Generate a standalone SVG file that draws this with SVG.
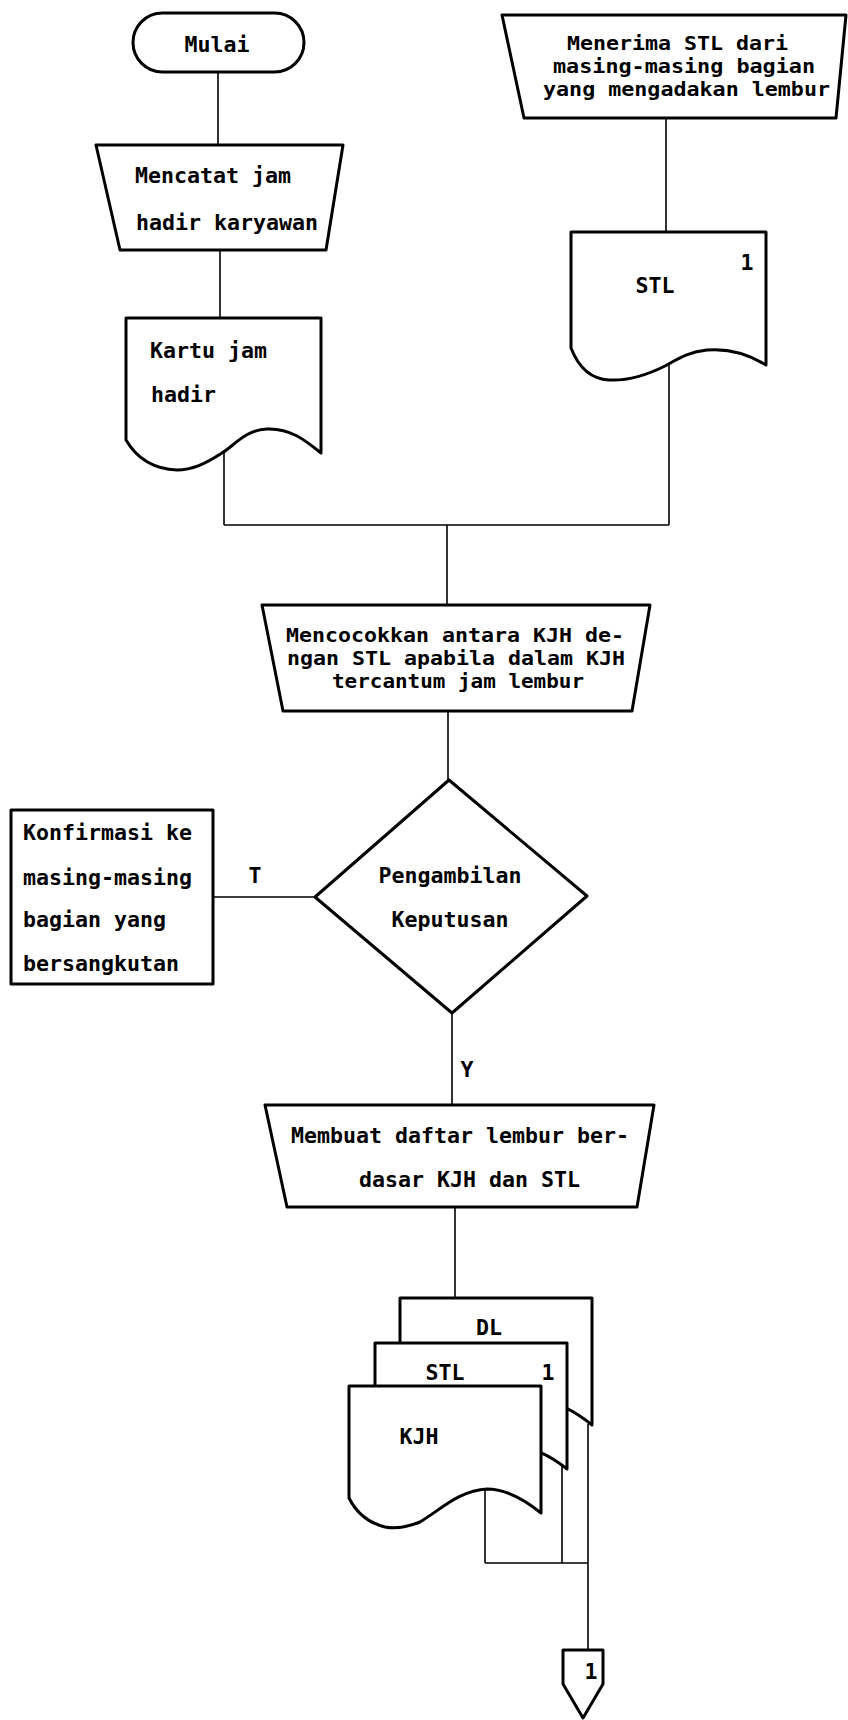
<svg xmlns="http://www.w3.org/2000/svg" width="848" height="1720" viewBox="0 0 848 1720">
<style>
.shape{fill:#fff;stroke:#000;stroke-width:3;stroke-linejoin:round}
.conn{fill:none;stroke:#000;stroke-width:1.6}
text{font-family:"DejaVu Sans Mono","Liberation Mono",monospace;font-weight:bold;font-size:21.6px;fill:#000}
.c{text-anchor:middle}
.t{font-size:19.5px}
</style>
<rect width="848" height="1720" fill="#fff"/>
<g id="connectors">
<path class="conn" d="M218,72 V145 M220,250 V318 M224,452 V525 M666,118 V232 M669,362 V525 M224,525 H669 M447,525 V605 M448,711 V780 M315,897 H213 M452,1013 V1105 M455,1207 V1298 M485,1490 V1563 M562,1466 V1563 M588,1424 V1650 M485,1563 H588"/>
<text class="c" x="255" y="883">T</text>
<text class="c" x="467" y="1077">Y</text>
</g>
<g id="mulai">
<rect class="shape" x="133" y="13" width="171" height="59" rx="29.5"/>
<text class="c" x="217" y="52">Mulai</text>
</g>
<g id="mencatat">
<polygon class="shape" points="96,145 343,145 326,250 120,250"/>
<text x="135" y="183">Mencatat jam</text>
<text x="136" y="230">hadir karyawan</text>
</g>
<g id="kartu">
<path class="shape" d="M126,318 H321 V453 C305,440 290,428 267,429 C245,430 235,445 222,453 C205,464 192,470 177,470 C152,469 136,457 126,440 Z"/>
<text x="150" y="358">Kartu jam</text>
<text x="151" y="402">hadir</text>
</g>
<g id="menerima">
<polygon class="shape" points="502,15 846,15 836,118 524,118"/>
<text class="t" x="567" y="50" textLength="221" lengthAdjust="spacingAndGlyphs">Menerima STL dari</text>
<text class="t" x="553" y="73" textLength="262" lengthAdjust="spacingAndGlyphs">masing-masing bagian</text>
<text class="t" x="543" y="96" textLength="287" lengthAdjust="spacingAndGlyphs">yang mengadakan lembur</text>
</g>
<g id="stl-doc">
<path class="shape" d="M571,232 H766 V365 C750,355 730,348 707,350 C688,352 678,359 665,366 C645,376 627,381 609,380 C590,379 578,366 571,348 Z"/>
<text class="c" x="655" y="293">STL</text>
<text class="c" x="747" y="270">1</text>
</g>
<g id="mencocokkan">
<polygon class="shape" points="262,605 650,605 632,711 283,711"/>
<text class="t" x="286" y="642" textLength="338" lengthAdjust="spacingAndGlyphs">Mencocokkan antara KJH de-</text>
<text class="t" x="287" y="665" textLength="338" lengthAdjust="spacingAndGlyphs">ngan STL apabila dalam KJH</text>
<text class="t" x="332" y="688" textLength="252" lengthAdjust="spacingAndGlyphs">tercantum jam lembur</text>
</g>
<g id="keputusan">
<polygon class="shape" points="449,780 587,896 452,1013 315,897"/>
<text class="c" x="450" y="883">Pengambilan</text>
<text class="c" x="450" y="927">Keputusan</text>
</g>
<g id="konfirmasi">
<rect class="shape" x="11" y="810" width="202" height="174"/>
<text x="23" y="840">Konfirmasi ke</text>
<text x="23" y="885">masing-masing</text>
<text x="23" y="927">bagian yang</text>
<text x="23" y="971">bersangkutan</text>
</g>
<g id="membuat">
<polygon class="shape" points="265,1105 654,1105 637,1207 287,1207"/>
<text x="291" y="1143">Membuat daftar lembur ber-</text>
<text x="359" y="1187">dasar KJH dan STL</text>
</g>
<g id="dl-doc">
<path class="shape" d="M400,1298 H592 V1425 C576,1412 556,1401 538,1401 C511,1402 491,1422 471,1434 C456,1440 446,1441 436,1439 C416,1434 406,1422 400,1410 Z"/>
<text class="c" x="489" y="1335">DL</text>
</g>
<g id="stl-copy">
<path class="shape" d="M375,1343 H567 V1469 C551,1456 531,1446 513,1446 C486,1447 466,1467 446,1479 C431,1485 421,1486 411,1484 C391,1479 381,1467 375,1455 Z"/>
<text class="c" x="445" y="1380">STL</text>
<text class="c" x="548" y="1380">1</text>
</g>
<g id="kjh-doc">
<path class="shape" d="M349,1386 H541 V1513 C525,1500 505,1489 487,1489 C460,1490 440,1510 420,1522 C405,1528 395,1529 385,1527 C365,1522 355,1510 349,1498 Z"/>
<text class="c" x="419" y="1444">KJH</text>
</g>
<g id="offpage">
<polygon class="shape" points="563,1650 603,1650 603,1684 583,1718 563,1684"/>
<text class="c" x="591" y="1679">1</text>
</g>
</svg>
